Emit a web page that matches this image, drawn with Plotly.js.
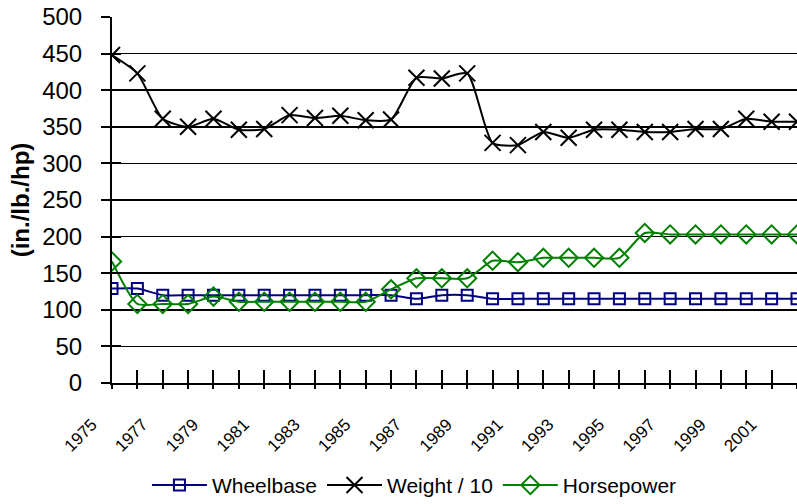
<!DOCTYPE html>
<html>
<head>
<meta charset="utf-8">
<script src="https://cdn.plot.ly/plotly-3.0.1.min.js"></script>
<style>
  body { margin: 0; background: #fff; }
  #chart { width: 797px; height: 504px; }
</style>
</head>
<body>
<div id="chart"></div>
<script>
var years = [1975, 1976, 1977, 1978, 1979, 1980, 1981, 1982, 1983, 1984, 1985, 1986, 1987, 1988,
  1989, 1990, 1991, 1992, 1993, 1994, 1995, 1996, 1997, 1998, 1999, 2000, 2001, 2002];
var wheelbase = [129, 129, 120, 120, 120, 120, 120, 120, 120, 120, 120, 120, 115, 120,
  120, 115, 115, 115, 115, 115, 115, 115, 115, 115, 115, 115, 115, 115];
var weight = [448, 423, 361, 350, 361, 346, 347, 366, 362, 365, 359, 360, 417, 416,
  423, 328, 325, 343, 335, 346, 346, 343, 343, 347, 347, 361, 357, 357];
var horsepower = [166, 108, 108, 108, 118, 111, 111, 111, 111, 111, 111, 128, 143, 143,
  143, 167, 165, 171, 171, 171, 171, 205, 203, 203, 203, 203, 203, 203];
var tickLabels = years.map(function (y) { return y % 2 == 1 ? String(y) : ""; });

var font = "Liberation Sans, Arial, sans-serif";

function series(name, y, color, symbol, size) {
  return {
    x: years,
    y: y,
    name: name,
    mode: "lines+markers",
    line: { color: color, width: 2, shape: "spline", smoothing: 0.6 },
    marker: {
      symbol: symbol,
      size: size,
      color: color,
      line: { color: color, width: 2 },
    },
  };
}

var traces = [
  series("Wheelbase", wheelbase, "#000080", "square-open", 11),
  series("Weight / 10", weight, "#000000", "x-thin-open", 16),
  series("Horsepower", horsepower, "#008000", "diamond-open", 14),
];

var layout = {
  width: 797,
  height: 504,
  margin: { l: 112, r: 0, t: 17, b: 121 },
  paper_bgcolor: "#fff",
  plot_bgcolor: "#fff",
  font: { family: font, color: "#000" },
  showlegend: true,
  legend: {
    orientation: "h",
    x: 0.52,
    xref: "container",
    xanchor: "center",
    y: 0.037,
    yref: "container",
    yanchor: "middle",
    font: { size: 21, family: font },
    itemwidth: 55,
    tracegroupgap: 0,
  },
  xaxis: {
    range: [1975, 2002],
    tickvals: years,
    ticktext: tickLabels,
    tickangle: -45,
    tickfont: { size: 17, family: font },
    ticks: "outside",
    ticklen: 4,
    tickwidth: 2,
    tickcolor: "#000",
    ticklabelstandoff: 19,
    ticklabelshift: -20,
    showline: true,
    linecolor: "#000",
    linewidth: 2,
    showgrid: false,
    zeroline: false,
    automargin: false,
    fixedrange: true,
  },
  xaxis2: {
    overlaying: "x",
    matches: "x",
    tickvals: years,
    showticklabels: false,
    ticks: "inside",
    ticklen: 13,
    tickwidth: 2,
    tickcolor: "#000",
    showgrid: false,
    zeroline: false,
    fixedrange: true,
  },
  yaxis: {
    range: [0, 500],
    dtick: 50,
    tickfont: { size: 24, family: font },
    ticks: "outside",
    ticklen: 9,
    tickwidth: 2,
    tickcolor: "#000",
    ticklabelstandoff: 14,
    showline: true,
    linecolor: "#000",
    linewidth: 2,
    gridcolor: "#000",
    gridwidth: 1.5,
    zeroline: false,
    automargin: false,
    title: { text: "<b>(in./lb./hp)</b>", font: { size: 24, family: font }, standoff: 6 },
    fixedrange: true,
  },
  yaxis2: {
    overlaying: "y",
    matches: "y",
    dtick: 50,
    showticklabels: false,
    ticks: "inside",
    ticklen: 9,
    tickwidth: 2,
    tickcolor: "#000",
    showgrid: false,
    zeroline: false,
    fixedrange: true,
  },
};

// invisible trace so the overlay axes for the crossing ticks get drawn
traces.push({
  x: [years[0]],
  y: [0],
  xaxis: "x2",
  yaxis: "y2",
  mode: "markers",
  marker: { opacity: 0 },
  showlegend: false,
  hoverinfo: "skip",
});

Plotly.newPlot("chart", traces, layout, { displayModeBar: false, staticPlot: true });
</script>
</body>
</html>
